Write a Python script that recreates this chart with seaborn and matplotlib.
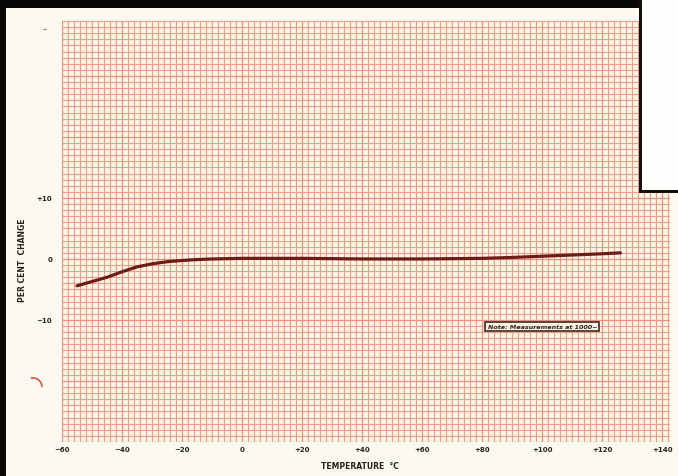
import matplotlib
matplotlib.use("Agg")
import matplotlib.pyplot as plt
import matplotlib.patches as mpatches
from matplotlib.ticker import MultipleLocator, FixedLocator, FuncFormatter
import seaborn as sns

# per cent change vs temperature
temp = [-55, -50, -45, -40, -35, -30, -25, -20, -15, -10, -5, 0, 20, 40, 60, 80, 90, 100, 110, 120, 126]
pct = [-4.4, -3.7, -3.0, -2.1, -1.3, -0.8, -0.45, -0.25, -0.1, 0.0, 0.05, 0.1, 0.1, 0.0, 0.0, 0.1, 0.25, 0.45, 0.65, 0.85, 1.0]

x_ticks = [-60, -40, -20, 0, 20, 40, 60, 80, 100, 120, 140]
y_labels = {-10: "\u221210", 0: "0", 10: "+10"}

paper = "#fdf5e4"
grid_col = "#ee9c8c"
ink = "#2a2018"

sns.set_style("white")
plt.rcParams["font.family"] = ["DejaVu Sans"]

fig = plt.figure(figsize=(6.78, 4.77), dpi=100)
fig.patch.set_facecolor("#fcfaf0")
ax = fig.add_axes([62 / 678, 1 - 443 / 477, 608 / 678, 421 / 477])
ax.set_facecolor(paper)

sns.lineplot(x=temp, y=pct, ax=ax, color="#6e1c18", linewidth=2.3, zorder=5)

ax.set_xlim(-60, 142.5)
ax.set_ylim(-30, 39)

# graph paper grid
ax.xaxis.set_major_locator(FixedLocator(x_ticks))
ax.xaxis.set_minor_locator(MultipleLocator(2))
ax.yaxis.set_major_locator(MultipleLocator(10))
ax.yaxis.set_minor_locator(MultipleLocator(1))
ax.grid(which="minor", color=grid_col, linewidth=0.8)
ax.grid(which="major", color="#ea9080", linewidth=0.9)
ax.set_axisbelow(True)

def xfmt(v, p):
    v = int(round(v))
    if v < 0:
        return "\u2212" + str(-v)
    if v == 0:
        return "0"
    return "+" + str(v)

ax.xaxis.set_major_formatter(FuncFormatter(xfmt))
ax.yaxis.set_major_formatter(FuncFormatter(lambda v, p: y_labels.get(int(round(v)), "")))
ax.tick_params(which="both", length=0)
ax.tick_params(axis="x", pad=3, labelsize=5, colors=ink)
ax.tick_params(axis="y", pad=7, labelsize=5, colors=ink)
for t in ax.get_xticklabels() + ax.get_yticklabels():
    t.set_fontweight("bold")

for s in ax.spines.values():
    s.set_visible(False)

ax.set_xlabel("TEMPERATURE  \u00b0C", fontsize=5.5, fontweight="bold", color=ink)
ax.xaxis.set_label_coords(0.49, -0.045)
ax.set_ylabel("PER CENT  CHANGE", fontsize=5.5, fontweight="bold", color=ink)
ax.yaxis.set_label_coords(-0.058, 0.435)

ax.text(100, -11.1, "Note: Measurements at 1000~", fontsize=4.6, fontweight="bold",
        fontstyle="italic", color=ink, ha="center", va="center", zorder=6,
        bbox=dict(boxstyle="square,pad=0.35", facecolor="#fbf3e0", edgecolor="#3a2a20", linewidth=1.2))

# scan edges: black border top/left, overlapping page at top right
W, H = 678, 477
def frect(x0, y0, w, h, **kw):
    fig.patches.append(mpatches.Rectangle((x0 / W, 1 - (y0 + h) / H), w / W, h / H,
                                          transform=fig.transFigure, zorder=10, **kw))

frect(642, 0, 36, 192, facecolor="#fdfdfb", edgecolor="none")
frect(0, 0, 642, 9, facecolor="#0a0806", edgecolor="none")
frect(0, 0, 6, 477, facecolor="#0a0806", edgecolor="none")
frect(639, 0, 3, 194, facecolor="#140c08", edgecolor="none")
frect(639, 191, 39, 2.5, facecolor="#140c08", edgecolor="none")

# stray marks on the sheet
fig.text(45 / W, 1 - 30 / H, "\u2013", fontsize=6, color="#555", ha="center", va="center")
fig.patches.append(mpatches.Arc((33 / W, 1 - 388 / H), 18 / W, 18 / H, theta1=0, theta2=100,
                                transform=fig.transFigure, color="#d0605a", linewidth=1.3, zorder=10))

fig.savefig("out.png", dpi=100, facecolor=fig.get_facecolor())
